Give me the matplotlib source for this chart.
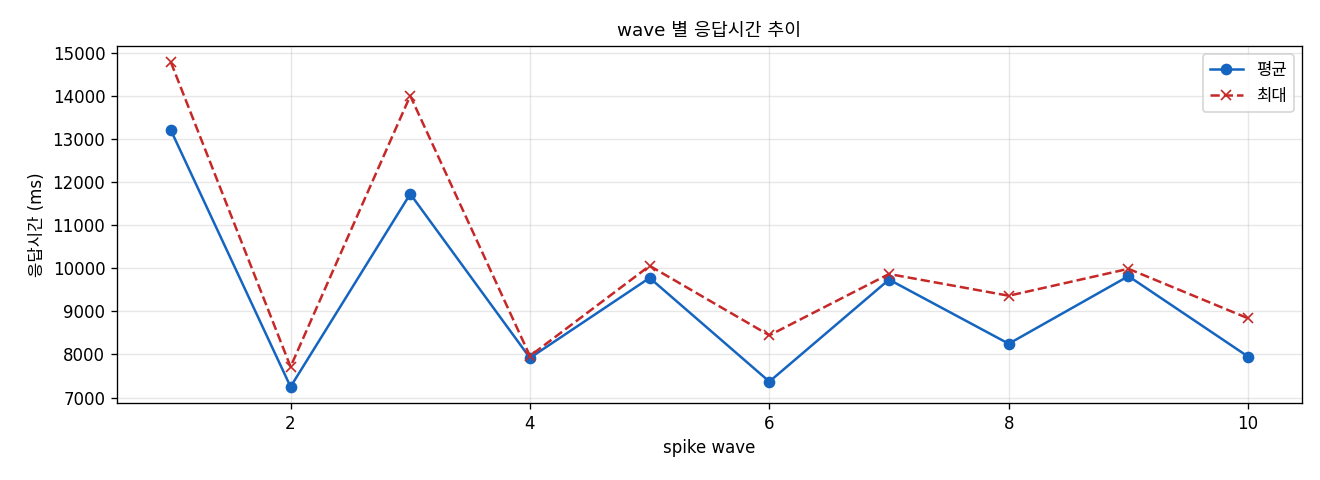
import matplotlib
matplotlib.use("Agg")
import matplotlib.pyplot as plt

plt.rcParams['font.family'] = ['DejaVu Sans', 'Noto Sans CJK KR']
plt.rcParams['axes.unicode_minus'] = False

waves = [1, 2, 3, 4, 5, 6, 7, 8, 9, 10]
avg_ms = [13210, 7250, 11730, 7920, 9780, 7370, 9740, 8250, 9820, 7950]
max_ms = [14790, 7715, 14010, 7965, 10060, 8445, 9870, 9365, 9990, 8840]

fig, ax = plt.subplots(figsize=(11, 4), dpi=120)
ax.plot(waves, avg_ms, marker='o', color='#1565C0', label='평균', linewidth=1.5, markersize=6)
ax.plot(waves, max_ms, marker='x', linestyle='--', color='#C62828', label='최대', linewidth=1.5, markersize=6)
ax.set_title('wave 별 응답시간 추이', fontsize=11)
ax.set_xlabel('spike wave', fontsize=10)
ax.set_ylabel('응답시간 (ms)', fontsize=10)
ax.grid(True, alpha=0.3)
ax.legend(loc='upper right')
fig.subplots_adjust(left=117/1320, right=1302/1320, top=1-46/480, bottom=1-403/480)
fig.savefig('out.png', dpi=120)
